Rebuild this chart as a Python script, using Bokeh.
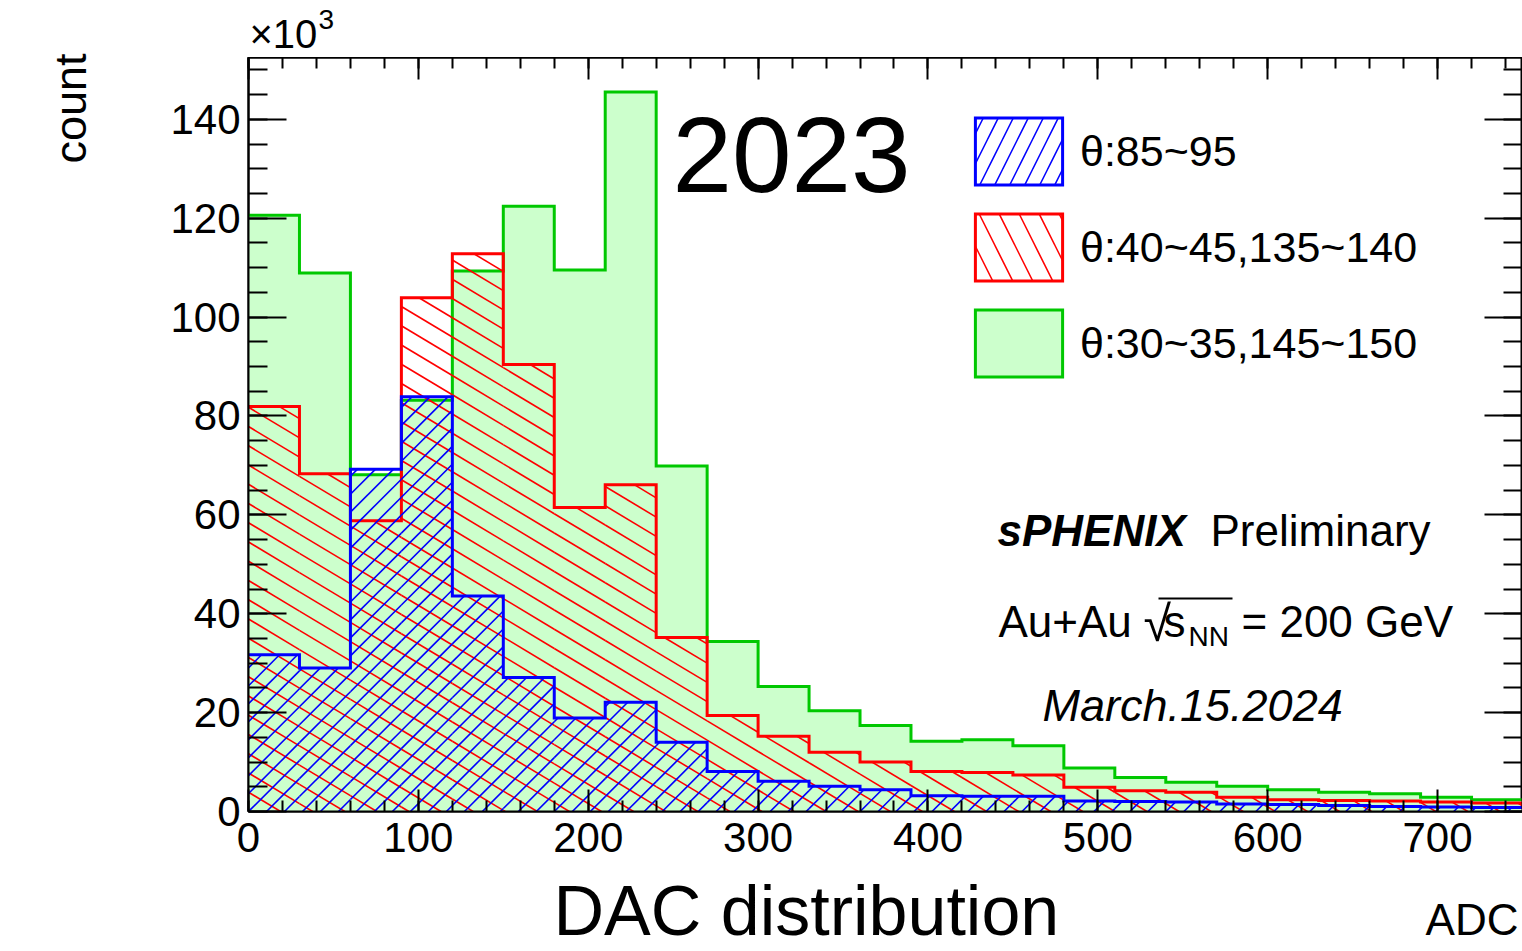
import math
from bokeh.plotting import figure
from bokeh.layouts import row, column
from bokeh.models import (Range1d, LinearAxis, SingleIntervalTicker, Label, Legend,
                          LegendItem, BoxAnnotation)
from bokeh.embed import file_html
from bokeh.resources import INLINE

# ---------------- data (counts in units of 10^3) ----------------
bin_edges = [0, 30, 60, 90, 120, 150, 180, 210, 240, 270, 300, 330, 360,
             390, 420, 450, 480, 510, 540, 570, 600, 630, 660, 690, 720, 750]

green_30_35 = [120.6, 108.9, 68.1, 83.2, 109.3, 122.4, 109.5, 145.5, 69.9, 34.4,
               25.3, 20.4, 17.4, 14.2, 14.5, 13.3, 8.8, 6.9, 5.9, 5.1,
               4.4, 3.9, 3.6, 2.9, 2.4]
red_40_45 = [81.9, 68.3, 58.8, 103.9, 112.8, 90.4, 61.5, 66.1, 35.2, 19.4,
             15.2, 12.0, 10.0, 8.1, 7.9, 7.4, 4.9, 4.2, 3.9, 2.9,
             2.4, 2.2, 2.1, 1.9, 1.7]
blue_85_95 = [31.7, 29.0, 69.2, 83.9, 43.6, 27.1, 18.9, 22.1, 14.0, 8.1,
              6.1, 5.1, 4.4, 3.2, 3.1, 3.1, 2.1, 2.0, 1.9, 1.5,
              1.4, 1.2, 1.0, 0.9, 0.8]

labels = ["θ:85~95", "θ:40~45,135~140", "θ:30~35,145~150"]

X_MIN, X_MAX = 0, 750
Y_MIN, Y_MAX = 0, 152.5

# ---------------- layout constants (canvas pixels) ----------------
W, H = 1522, 951
FL, FT, FR, FB = 248, 57, 1520, 811      # frame edges
LEFT_W, TOP_H, BOTTOM_H = 150, FT, 78
MAIN_W, MAIN_H = W - LEFT_W, H - TOP_H - BOTTOM_H
FRAME_W, FRAME_H = FR - FL, FB - FT
FONT = "Liberation Sans"
SX = FRAME_W / (X_MAX - X_MIN)           # px per x unit
SY = FRAME_H / (Y_MAX - Y_MIN)           # px per y unit
NAN = float("nan")


def outline(edges, vals, pad=20.0):
    """Closed step polygon of a histogram (ends pushed outside the frame)."""
    xs = [edges[0] - pad, edges[0] - pad]
    ys = [Y_MIN - pad, vals[0]]
    for i, v in enumerate(vals):
        xs += [edges[i], edges[i + 1]]
        ys += [v, v]
    xs += [edges[-1] + pad, edges[-1] + pad]
    ys += [vals[-1], Y_MIN - pad]
    return xs, ys


def hatch_segments(edges, vals, angle_deg, spacing):
    """Parallel hatch lines (fixed pixel angle / spacing) clipped to each bin."""
    a = math.radians(angle_deg)
    ux, uy = math.cos(a), math.sin(a)
    nx, ny = -uy, ux
    x0s, y0s, x1s, y1s = [], [], [], []
    for i, v in enumerate(vals):
        if v <= Y_MIN:
            continue
        X0, X1 = (edges[i] - X_MIN) * SX, (edges[i + 1] - X_MIN) * SX
        Y0, Y1 = 0.0, (v - Y_MIN) * SY
        cs = [nx * X + ny * Y for X in (X0, X1) for Y in (Y0, Y1)]
        for k in range(math.ceil(min(cs) / spacing), math.floor(max(cs) / spacing) + 1):
            c = k * spacing
            px, py = c * nx, c * ny
            tlo, thi = -1e9, 1e9
            for p0, d, lo, hi in ((px, ux, X0, X1), (py, uy, Y0, Y1)):
                if abs(d) < 1e-12:
                    if p0 < lo or p0 > hi:
                        tlo, thi = 1, 0
                    continue
                t1, t2 = (lo - p0) / d, (hi - p0) / d
                tlo, thi = max(tlo, min(t1, t2)), min(thi, max(t1, t2))
            if thi - tlo > 0.5:
                x0s.append((px + tlo * ux) / SX + X_MIN)
                y0s.append((py + tlo * uy) / SY + Y_MIN)
                x1s.append((px + thi * ux) / SX + X_MIN)
                y1s.append((py + thi * uy) / SY + Y_MIN)
    return x0s, y0s, x1s, y1s


# ---------------- main figure ----------------
p = figure(width=MAIN_W, height=MAIN_H, output_backend="svg", toolbar_location=None,
           x_range=Range1d(X_MIN, X_MAX), y_range=Range1d(Y_MIN, Y_MAX))
p.min_border_left = FL - LEFT_W
p.min_border_right = 0
p.min_border_top = FT - TOP_H
p.min_border_bottom = (TOP_H + MAIN_H) - FB
p.background_fill_color = "white"
p.border_fill_color = "white"
p.outline_line_color = "black"
p.outline_line_width = 2
p.xgrid.visible = False
p.ygrid.visible = False

GREEN, GREEN_FILL, RED, BLUE = "#00c800", "#ccffcc", "#ff0000", "#0000ff"

gx, gy = outline(bin_edges, green_30_35)
rg = p.patch(gx, gy, fill_color=GREEN_FILL, line_color=GREEN, line_width=3, line_join="miter")

sx0, sy0, sx1, sy1 = hatch_segments(bin_edges, red_40_45, -31, 16.5)
p.segment(sx0, sy0, sx1, sy1, line_color=RED, line_width=1.6)
rx, ry = outline(bin_edges, red_40_45)
rr = p.patch(rx, ry, fill_alpha=0, line_color=RED, line_width=3, line_join="miter")

sx0, sy0, sx1, sy1 = hatch_segments(bin_edges, blue_85_95, 45, 12.7)
p.segment(sx0, sy0, sx1, sy1, line_color=BLUE, line_width=1.6)
bx, by = outline(bin_edges, blue_85_95)
rb = p.patch(bx, by, fill_alpha=0, line_color=BLUE, line_width=3, line_join="miter")

# swatch-only hatch renderers for the legend (NaN geometry: nothing drawn in the plot)
kr = p.patch([NAN, NAN, NAN], [NAN, NAN, NAN], fill_alpha=0, line_alpha=0,
             hatch_pattern="left_diagonal_line", hatch_color=RED, hatch_scale=40,
             hatch_weight=1.5)
kb = p.patch([NAN, NAN, NAN], [NAN, NAN, NAN], fill_alpha=0, line_alpha=0,
             hatch_pattern="right_diagonal_line", hatch_color=BLUE, hatch_scale=30,
             hatch_weight=1.5)


def style_axis(ax, tick_in, minor_in, show_labels=True):
    ax.axis_line_color = "black"
    ax.axis_line_width = 2
    ax.major_tick_in = tick_in
    ax.major_tick_out = 0
    ax.minor_tick_in = minor_in
    ax.minor_tick_out = 0
    ax.major_tick_line_width = 2
    ax.minor_tick_line_width = 2
    ax.major_tick_line_color = "black"
    ax.minor_tick_line_color = "black"
    if show_labels:
        ax.major_label_text_font = FONT
        ax.major_label_text_font_size = "42px"
        ax.major_label_text_color = "black"
    else:
        ax.major_label_text_font_size = "0px"
        ax.major_label_text_color = None
        ax.major_label_standoff = 0


p.xaxis.ticker = SingleIntervalTicker(interval=100, num_minor_ticks=5)
p.yaxis.ticker = SingleIntervalTicker(interval=20, num_minor_ticks=4)
style_axis(p.xaxis[0], 22, 11)
style_axis(p.yaxis[0], 38, 19)
p.xaxis.major_label_standoff = 11
p.yaxis.major_label_standoff = 8

top_ax = LinearAxis(ticker=SingleIntervalTicker(interval=100, num_minor_ticks=5))
style_axis(top_ax, 22, 11, show_labels=False)
p.add_layout(top_ax, "above")
right_ax = LinearAxis(ticker=SingleIntervalTicker(interval=20, num_minor_ticks=4))
style_axis(right_ax, 38, 19, show_labels=False)
p.add_layout(right_ax, "right")

legend = Legend(items=[LegendItem(label=labels[0], renderers=[kb, rb]),
                       LegendItem(label=labels[1], renderers=[kr, rr]),
                       LegendItem(label=labels[2], renderers=[rg])],
                location=(716, 426), glyph_width=109, glyph_height=84, spacing=12,
                label_standoff=7, padding=0, margin=0, border_line_color=None,
                background_fill_alpha=0, label_text_font=FONT,
                label_text_font_size="43px", label_text_color="black")
p.add_layout(legend)


def lab(fig, ox, oy, text, cx, base, size, style="normal", align="left", angle=0.0):
    """Place text whose baseline sits at canvas y=base (x=base side when rotated).
    ox, oy: canvas position of the figure frame's left / bottom edge."""
    if angle:
        ax_, ay_ = cx - 0.38 * size, base
    else:
        ax_, ay_ = cx, base - 0.38 * size
    fig.add_layout(Label(text=text, x=ax_ - ox, y=oy - ay_, x_units="screen", y_units="screen",
                         text_font=FONT, text_font_size=f"{size}px", text_font_style=style,
                         text_align=align, text_baseline="middle", angle=angle,
                         text_color="black"))


lab(p, FL, FB, "2023", 672, 195, 107)
lab(p, FL, FB, "sPHENIX", 997, 547, 44, style="bold italic")
lab(p, FL, FB, "Preliminary", 1210, 547, 44)
lab(p, FL, FB, "Au+Au", 998, 638, 44)
lab(p, FL, FB, "√", 1143, 642, 50)
lab(p, FL, FB, "s", 1163, 638, 44)
lab(p, FL, FB, "NN", 1188, 647, 28)
lab(p, FL, FB, "= 200 GeV", 1241, 638, 44)
lab(p, FL, FB, "March.15.2024", 1042, 722, 45, style="italic")
p.add_layout(BoxAnnotation(left=1158 - FL, right=1232 - FL, bottom=FB - 599, top=FB - 597,
                           left_units="screen", right_units="screen",
                           bottom_units="screen", top_units="screen",
                           fill_color="black", fill_alpha=1, line_alpha=0))


# ---------------- text strips around the main figure ----------------
def blank(w, h):
    f = figure(width=w, height=h, output_backend="svg", toolbar_location=None,
               x_axis_type=None, y_axis_type=None,
               x_range=Range1d(0, 1), y_range=Range1d(0, 1), min_border=0)
    f.outline_line_color = None
    f.background_fill_color = "white"
    f.border_fill_color = "white"
    return f


left_fig = blank(LEFT_W, H)
lab(left_fig, 0, H, "count", 87, 53, 45, align="right", angle=math.pi / 2)

# frames of the strips in the column are aligned with the main frame (left edge at FL)
top_fig = blank(MAIN_W, TOP_H)
lab(top_fig, FL, TOP_H, "×10", 249, 49, 40)
lab(top_fig, FL, TOP_H, "3", 318, 30, 28)

bottom_fig = blank(MAIN_W, BOTTOM_H)
lab(bottom_fig, FL, H, "DAC distribution", 553, 937, 70)
lab(bottom_fig, FL, H, "ADC", 1518, 936, 44, align="right")

layout = row(left_fig, column(top_fig, p, bottom_fig, spacing=0), spacing=0)

open("out.html", "w").write(file_html(layout, INLINE))
